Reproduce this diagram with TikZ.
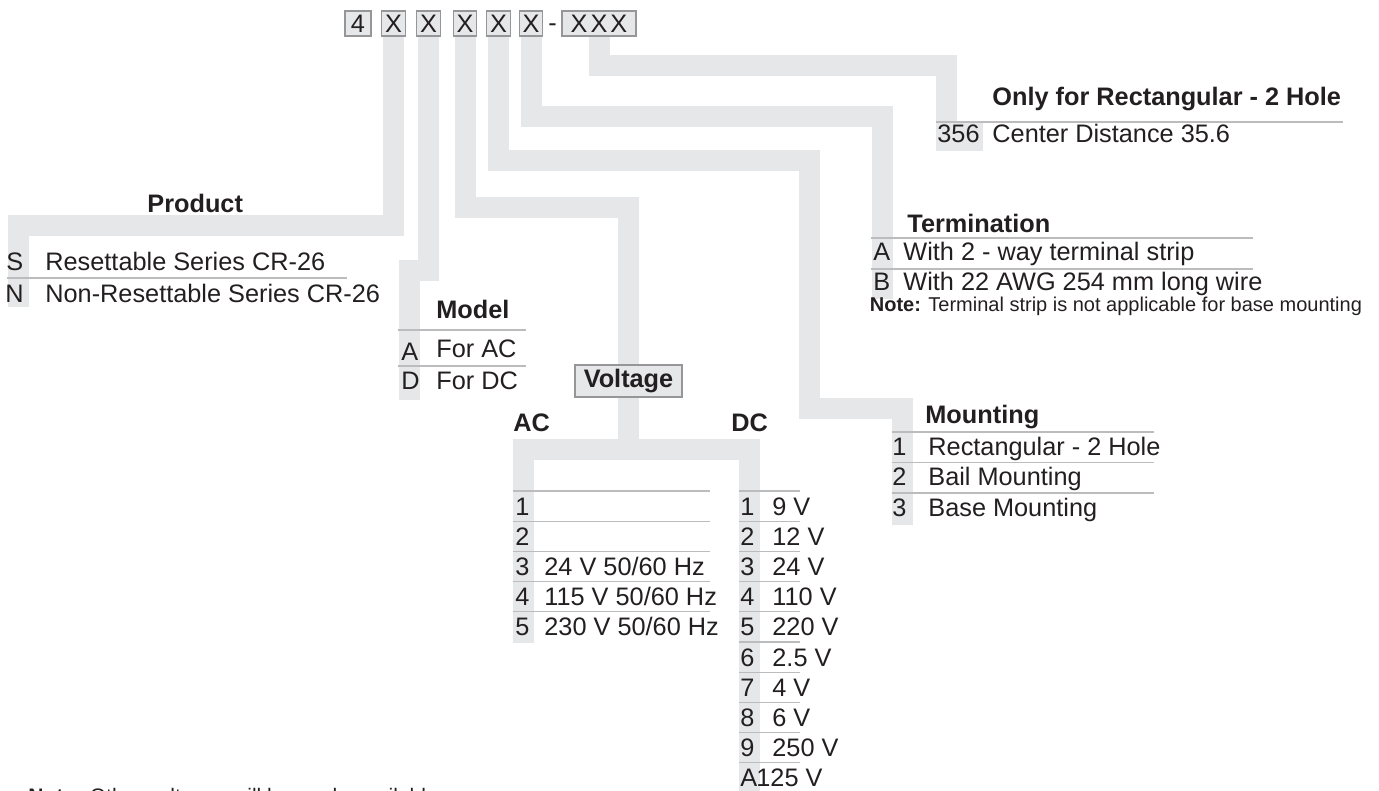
\documentclass[tikz,border=0pt]{standalone}
\usepackage{fontspec}
\setmainfont{Liberation Sans}
\definecolor{bandGray}{RGB}{230,231,232}
\definecolor{ruleGray}{RGB}{188,188,190}
\definecolor{boxGray}{RGB}{150,150,152}
\definecolor{inkDark}{RGB}{35,31,32}

\begin{document}
\begin{tikzpicture}[x=0.5pt,y=-0.5pt,
  cbox/.style={rectangle,fill=bandGray,draw=boxGray,line width=0.6pt,inner sep=0pt,
               minimum height=12.5pt,font=\fontsize{12.65}{15}\selectfont,text=inkDark},
  band/.style={draw=bandGray,line width=10.5pt},
  rl/.style={draw=ruleGray,line width=0.6pt},
  tx/.style={anchor=base west,inner sep=0pt,font=\fontsize{12.65}{15}\selectfont,text=inkDark},
  hd/.style={tx,font=\fontsize{12.65}{15}\selectfont\bfseries},
  nt/.style={anchor=base west,inner sep=0pt,font=\fontsize{10}{12}\selectfont,text=inkDark}
]
  \useasboundingbox (0,0) rectangle (1379,791);

  % ── order code ──
  \node[cbox,minimum width=13pt](C0) at (358,23.5) {4};
  \foreach \n/\x in {1/393.5,2/428.5,3/465,4/498.5,5/531}
    \node[cbox,minimum width=11.75pt](C\n) at (\x,23.5) {X};
  \node[tx](dash) at (548,32) {-};
  \node[cbox,minimum width=37pt](C6) at (599,23.5) {X\hspace{1.5pt}X\hspace{1.5pt}X};

  % ── bands ──
  \draw[band](C1.south) |- (18,225) -- (18,307);
  \draw[band](C2.south) |- (409,270) -- (409,400);
  \draw[band](C3.south) |- (628.5,207.5) -- (628.5,449.5);
  \draw[band](523,643) |- (749,449.5) -- (749,800);
  \draw[band](C4.south) |- (809.5,160.5) |- (902,408) -- (902,525);
  \draw[band](C5.south) |- (882.5,117) -- (882.5,299);
  \draw[band](C6.south) |- (946.5,65.5) -- (946.5,122);
  \fill[bandGray](936,123) rectangle (983,151);

  % ── Only for Rectangular ──
  \node[hd](Ohd) at (992,106) {Only for Rectangular - 2 Hole};
  \draw[rl](936,122)--(1343,122);
  \node[tx](Oc) at (937,143) {356};
  \node[tx](Ot) at (992,143) {Center Distance 35.6};

  % ── Product ──
  \node[hd](Phd) at (147,213) {Product};
  \node[tx](PcS) at (6,270) {S};
  \node[tx](PtS) at (45,270) {Resettable Series CR-26};
  \draw[rl](7,278)--(347,278);
  \node[tx](PcN) at (5,302) {N};
  \node[tx](PtN) at (45,302) {Non-Resettable Series CR-26};

  % ── Model ──
  \node[hd](Mhd) at (436,318) {Model};
  \draw[rl](398,330)--(526,330);
  \node[tx](McA) at (401,360) {A};
  \node[tx](MtA) at (436,357) {For AC};
  \draw[rl](398,366)--(526,366);
  \node[tx](McD) at (401,389) {D};
  \node[tx](MtD) at (436,389) {For DC};

  % ── Voltage ──
  \node[cbox,font=\fontsize{12.65}{15}\selectfont\bfseries,minimum width=53.5pt,
        minimum height=16pt](VB) at (628.5,381) {Voltage};
  \node[hd](ACh) at (513,431) {AC};
  \node[hd](DCh) at (731,431) {DC};
  \foreach \k/\c/\t in {0/1/{},1/2/{},2/3/{24 V 50/60 Hz},3/4/{115 V 50/60 Hz},4/5/{230 V 50/60 Hz}}{
    \draw[rl](513,{491+30.2*\k})--(710,{491+30.2*\k});
    \node[tx](ACc\c) at (515,{515+30.2*\k}) {\c};
    \node[tx](ACt\c) at (544,{515+30.2*\k}) {\t};
  }
  \foreach \k/\c/\t/\xt in {0/1/9 V/772,1/2/12 V/772,2/3/24 V/772,3/4/110 V/772,4/5/220 V/772,
                            5/6/2.5 V/772,6/7/4 V/772,7/8/6 V/772,8/9/250 V/772,9/A/125 V/756}{
    \draw[rl](739,{491+30.2*\k})--(800,{491+30.2*\k});
    \node[tx](DCc\c) at (740,{515+30.2*\k}) {\c};
    \node[tx](DCt\c) at (\xt,{515+30.2*\k}) {\t};
  }

  % ── Mounting ──
  \node[hd](MOhd) at (925,423) {Mounting};
  \foreach \k/\c/\t in {0/1/Rectangular - 2 Hole,1/2/Bail Mounting,2/3/Base Mounting}{
    \draw[rl](892,{432+30.5*\k})--(1154,{432+30.5*\k});
    \node[tx](MOc\c) at (892,{455+30.5*\k}) {\c};
    \node[tx](MOt\c) at (928,{455+30.5*\k}) {\t};
  }

  % ── Termination ──
  \node[hd](Thd) at (907,232) {Termination};
  \draw[rl](871,238)--(1253,238);
  \node[tx](TcA) at (873,260) {A};
  \node[tx](TtA) at (903,260) {With 2 - way terminal strip};
  \draw[rl](871,269)--(1253,269);
  \node[tx](TcB) at (873,290) {B};
  \node[tx](TtB) at (903,290) {With 22 AWG 254 mm long wire};
  \node[nt](Tnote) at (869.5,311) {\textbf{Note:} Terminal strip is not applicable for base mounting};

  % ── footnote (cut at page edge) ──
  \node[nt,font=\fontsize{10.5}{12}\selectfont](Fnote) at (28,803)
      {\textbf{Note:} Other voltages will be made available};
\end{tikzpicture}
\end{document}
